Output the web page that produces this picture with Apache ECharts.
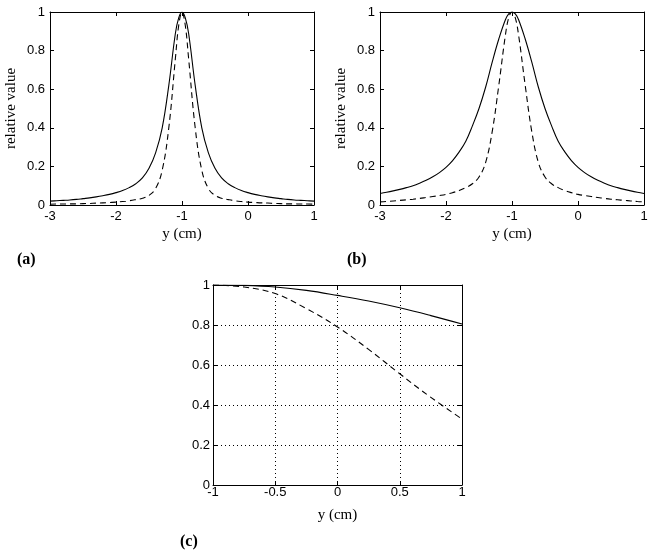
<!DOCTYPE html>
<html>
<head>
<meta charset="utf-8">
<script src="https://cdn.jsdelivr.net/npm/echarts@6/dist/echarts.min.js"></script>
<style>html,body{margin:0;padding:0;background:#fff}#c{width:654px;height:557px}</style>
</head>
<body>
<div id="c"></div>
<script>
// ---- data ----
const xAB = [-3,-2.9,-2.8,-2.7,-2.6,-2.5,-2.4,-2.3,-2.2,-2.1,-2,-1.9,-1.8,-1.7,-1.6,-1.5,-1.4,-1.3,-1.2,-1.1,-1.05,-1,-0.95,-0.9,-0.8,-0.7,-0.6,-0.5,-0.4,-0.3,-0.2,-0.1,0,0.1,0.2,0.3,0.4,0.5,0.6,0.7,0.8,0.9,1];
const solidA = [0.02,0.022,0.024,0.026,0.029,0.033,0.037,0.042,0.048,0.055,0.064,0.075,0.09,0.11,0.14,0.19,0.27,0.40,0.62,0.89,0.97,1.0,0.97,0.89,0.62,0.40,0.27,0.19,0.14,0.11,0.09,0.075,0.064,0.055,0.048,0.042,0.037,0.033,0.029,0.026,0.024,0.022,0.02];
const dashedA = [0.004,0.005,0.005,0.006,0.006,0.007,0.008,0.01,0.011,0.013,0.015,0.018,0.022,0.028,0.035,0.05,0.085,0.18,0.40,0.76,0.93,1.0,0.93,0.76,0.40,0.18,0.085,0.05,0.035,0.028,0.022,0.018,0.015,0.013,0.011,0.01,0.008,0.007,0.006,0.006,0.005,0.005,0.004];
const solidB = [0.06,0.066,0.073,0.081,0.09,0.10,0.113,0.128,0.146,0.168,0.195,0.23,0.275,0.33,0.41,0.50,0.61,0.74,0.86,0.96,0.99,1.0,0.99,0.96,0.86,0.74,0.61,0.50,0.41,0.33,0.275,0.23,0.195,0.168,0.146,0.128,0.113,0.10,0.09,0.081,0.073,0.066,0.06];
const dashedB = [0.016,0.018,0.021,0.024,0.027,0.03,0.034,0.039,0.044,0.049,0.055,0.064,0.075,0.09,0.11,0.145,0.22,0.38,0.62,0.88,0.97,1.0,0.97,0.88,0.62,0.38,0.22,0.145,0.11,0.09,0.075,0.064,0.055,0.049,0.044,0.039,0.034,0.03,0.027,0.024,0.021,0.018,0.016];
const xC = [-1,-0.75,-0.5,-0.25,0,0.25,0.5,0.75,1];
const solidC = [1.0,0.998,0.99,0.973,0.948,0.92,0.886,0.847,0.805];
const dashedC = [1.0,0.99,0.957,0.882,0.79,0.678,0.556,0.438,0.33];
const xTicksAB = [-3,-2,-1,0,1];
const xTicksC = [-1,-0.5,0,0.5,1];
const yTicks = [0,0.2,0.4,0.6,0.8,1];
const xLabel = 'y (cm)';
const yLabel = 'relative value';
const panelLabels = ['(a)','(b)','(c)'];

// ---- build ----
const sans = 'Liberation Sans, Arial, sans-serif';
const serif = 'Liberation Serif, Times New Roman, serif';
const grids = [
  {left:50, top:12, width:264, height:193},
  {left:380, top:12, width:264, height:193},
  {left:213, top:285, width:249, height:200}
];
const xt = [xTicksAB, xTicksAB, xTicksC];
const lineStyle = {color:'#000', width:1};
const xAxes = [], yAxes = [];
for (let i = 0; i < 3; i++) {
  const t = xt[i];
  const grid = i === 2;
  xAxes.push({
    type:'value', gridIndex:i, position:'bottom', min:t[0], max:t[t.length-1], interval:t[1]-t[0],
    axisLine:{show:true, onZero:false, lineStyle},
    axisTick:{show:true, inside:true, length:4, lineStyle},
    axisLabel:{show:true, color:'#000', fontFamily:sans, fontSize:13, margin: grid ? 1 : 5},
    splitLine:{show:grid, lineStyle:{color:'#000', width:1, type:[1,3]}},
    name:xLabel, nameLocation:'middle', nameGap: grid ? 23 : 22,
    nameTextStyle:{color:'#000', fontFamily:serif, fontSize:15}
  });
  yAxes.push({
    type:'value', gridIndex:i, position:'left', min:yTicks[0], max:yTicks[yTicks.length-1], interval:yTicks[1]-yTicks[0],
    axisLine:{show:true, onZero:false, lineStyle},
    axisTick:{show:true, inside:true, length:4, lineStyle},
    axisLabel:{show:true, color:'#000', fontFamily:sans, fontSize:13, margin: grid ? 3 : 5},
    splitLine:{show:grid, lineStyle:{color:'#000', width:1, type:[1,3]}},
    name: grid ? '' : yLabel, nameLocation:'middle', nameGap:31, nameRotate:90,
    nameTextStyle:{color:'#000', fontFamily:serif, fontSize:15}
  });
}
for (let i = 0; i < 3; i++) {
  const t = xt[i];
  xAxes.push({
    type:'value', gridIndex:i, position:'top', min:t[0], max:t[t.length-1], interval:t[1]-t[0],
    axisLine:{show:true, onZero:false, lineStyle},
    axisTick:{show:true, inside:true, length:4, lineStyle},
    axisLabel:{show:false}, splitLine:{show:false}
  });
  yAxes.push({
    type:'value', gridIndex:i, position:'right', min:yTicks[0], max:yTicks[yTicks.length-1], interval:yTicks[1]-yTicks[0],
    axisLine:{show:true, onZero:false, lineStyle},
    axisTick:{show:true, inside:true, length:4, lineStyle},
    axisLabel:{show:false}, splitLine:{show:false}
  });
}
function mk(xs, ys, idx, dashed) {
  return {
    type:'line', xAxisIndex:idx, yAxisIndex:idx, smooth:0.4, showSymbol:false, symbol:'none',
    data: xs.map((x, k) => [x, ys[k]]),
    lineStyle:{color:'#000', width:1.1, type: dashed ? [6,4] : 'solid'},
    animation:false, z:3
  };
}
const series = [
  mk(xAB, solidA, 0, false), mk(xAB, dashedA, 0, true),
  mk(xAB, solidB, 1, false), mk(xAB, dashedB, 1, true),
  mk(xC, solidC, 2, false), mk(xC, dashedC, 2, true)
];
const labelPos = [[17,252],[347,252],[180,534]];
const graphic = panelLabels.map((s, i) => ({
  type:'text', left:labelPos[i][0], top:labelPos[i][1],
  style:{text:s, fill:'#000', font:'bold 16px ' + serif}
}));
const chart = echarts.init(document.getElementById('c'), null, {renderer:'canvas'});
chart.setOption({
  backgroundColor:'#fff', animation:false,
  grid: grids, xAxis: xAxes, yAxis: yAxes, series, graphic
});
</script>
</body>
</html>
